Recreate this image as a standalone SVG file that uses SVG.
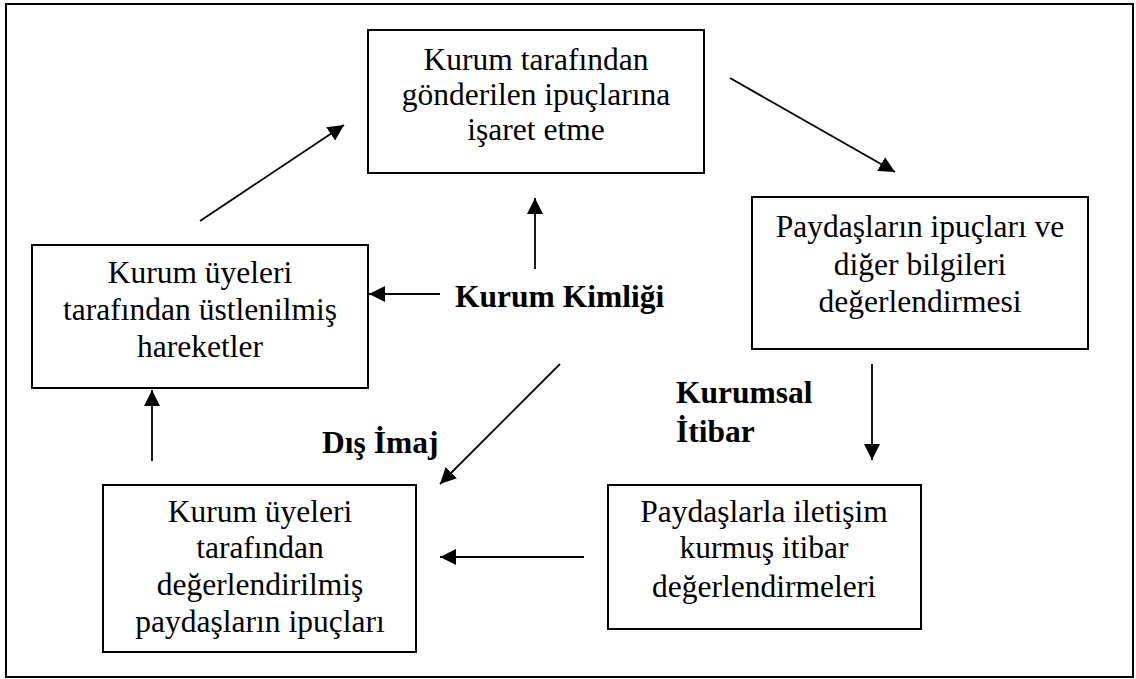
<svg xmlns="http://www.w3.org/2000/svg" width="1136" height="679" viewBox="0 0 1136 679">
<defs>
<style>
.box{fill:#fff;stroke:#000;stroke-width:2}
.t{font-family:"Liberation Serif","Times New Roman",serif;font-size:31.5px;fill:#000;text-anchor:middle}
.b{font-family:"Liberation Serif","Times New Roman",serif;font-size:31.5px;font-weight:bold;fill:#000}
.c{stroke:#000;stroke-width:1.8;fill:none;marker-end:url(#ah)}
</style>
<marker id="ah" markerUnits="userSpaceOnUse" markerWidth="18" markerHeight="16" refX="16" refY="8" orient="auto">
<path d="M0,0 L16,8 L0,16 Z" fill="#000"/>
</marker>
</defs>
<rect x="0" y="0" width="1136" height="679" fill="#fff"/>
<rect x="6" y="4" width="1127" height="673" fill="none" stroke="#000" stroke-width="2"/>

<g id="n-top">
<rect class="box" x="368" y="30" width="336" height="143"/>
<text class="t" x="536" y="70">Kurum tarafından</text>
<text class="t" x="536" y="105">gönderilen ipuçlarına</text>
<text class="t" x="536" y="140">işaret etme</text>
</g>
<g id="n-left">
<rect class="box" x="32" y="245" width="336" height="143"/>
<text class="t" x="200" y="283">Kurum üyeleri</text>
<text class="t" x="200" y="320">tarafından üstlenilmiş</text>
<text class="t" x="200" y="357">hareketler</text>
</g>
<g id="n-right">
<rect class="box" x="752" y="197" width="336" height="152"/>
<text class="t" x="920" y="237">Paydaşların ipuçları ve</text>
<text class="t" x="920" y="275">diğer bilgileri</text>
<text class="t" x="920" y="312">değerlendirmesi</text>
</g>
<g id="n-bottomright">
<rect class="box" x="608" y="485" width="313" height="144"/>
<text class="t" x="764" y="522">Paydaşlarla iletişim</text>
<text class="t" x="764" y="558">kurmuş itibar</text>
<text class="t" x="764" y="597">değerlendirmeleri</text>
</g>
<g id="n-bottomleft">
<rect class="box" x="103" y="485" width="313" height="167"/>
<text class="t" x="260" y="522">Kurum üyeleri</text>
<text class="t" x="260" y="558">tarafından</text>
<text class="t" x="260" y="595">değerlendirilmiş</text>
<text class="t" x="260" y="632">paydaşların ipuçları</text>
</g>
<g id="labels">
<text class="b" x="455" y="307">Kurum Kimliği</text>
<text class="b" x="676" y="403">Kurumsal</text>
<text class="b" x="676" y="442">İtibar</text>
<text class="b" x="322" y="453">Dış İmaj</text>
</g>
<g id="connectors">
<line class="c" x1="730" y1="78" x2="895" y2="172"/>
<line class="c" x1="872" y1="364" x2="872" y2="460"/>
<line class="c" x1="584" y1="557" x2="440" y2="557"/>
<line class="c" x1="152" y1="461" x2="152" y2="390"/>
<line class="c" x1="200" y1="221" x2="344" y2="125"/>
<line class="c" x1="535" y1="269" x2="535" y2="198"/>
<line class="c" x1="440" y1="294" x2="369" y2="294"/>
<line class="c" x1="560" y1="364" x2="440" y2="484"/>
</g>
</svg>
